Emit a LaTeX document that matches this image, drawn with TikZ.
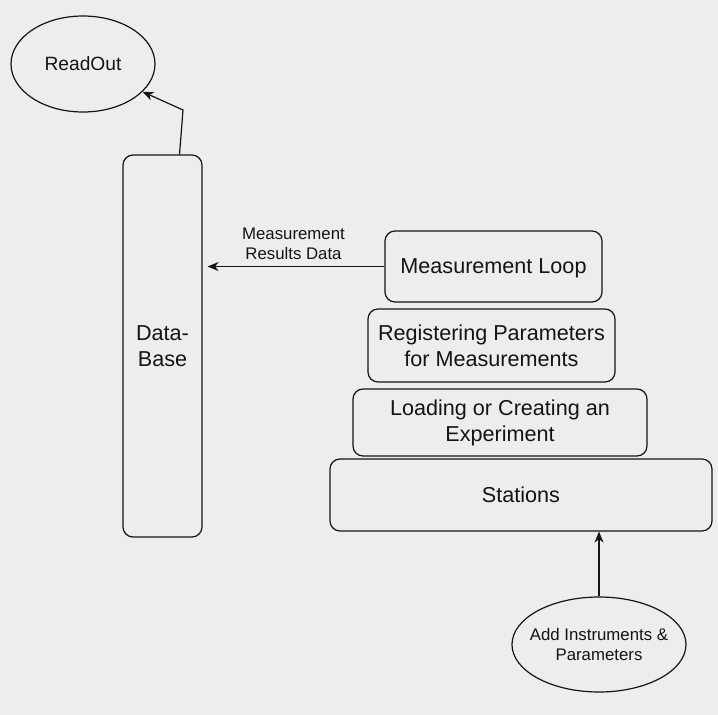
\documentclass[tikz,border=0pt]{standalone}
\usepackage{fontspec}
\setmainfont{Liberation Sans}
\usetikzlibrary{positioning,shapes.geometric}
\usetikzlibrary{arrows.meta}
\definecolor{bgcol}{RGB}{237,237,237}
\definecolor{inkcol}{RGB}{20,20,20}

\begin{document}
\begin{tikzpicture}[x=1pt, y=-1pt, line width=1.2pt, draw=inkcol, text=inkcol,
    bloc/.style={draw, rounded corners=10pt, align=center, inner sep=0pt,
      font=\fontsize{21.6}{25.9}\selectfont},
    bulle/.style={draw, ellipse, align=center, inner sep=0pt},
    fleche/.style={-{Stealth[length=11pt, width=9pt, inset=3.5pt]}}]
  \useasboundingbox[fill=bgcol] (0,0) rectangle (718,715);

  % Pile des étapes
  \node[bloc, text depth=0pt, minimum width=217pt, minimum height=71pt] (loop) at (493.5,266.5) {Measurement Loop};
  \node[bloc, minimum width=247pt, minimum height=73pt] (regist) at (491.5,345.5) {Registering Parameters\\for Measurements};
  \node[bloc, minimum width=294pt, minimum height=67pt] (expe) at (500,422.5) {Loading or Creating an\\Experiment};
  \node[bloc, minimum width=382pt, minimum height=72pt] (stations) at (521,495) {Stations};

  % Base et ellipses
  \node[bloc, minimum width=79pt, minimum height=382pt] (db) at (162.5,346) {Data-\\Base};
  \node[bulle, minimum width=144pt, minimum height=96pt, font=\fontsize{19.2}{23}\selectfont] (readout) at (83,64) {ReadOut};
  \node[bulle, inner xsep=-20pt, minimum width=174pt, minimum height=95pt, font=\fontsize{16.8}{20.2}\selectfont] (instr) at (599,644.5) {Add Instruments \&\\Parameters};

  % Flèches entre les blocs
  \coordinate (coude) at (183,110);
  \draw[fleche] ([xshift=17pt]db.north) -- (coude) -- (readout.-25);
  \draw[fleche, shorten >=5pt] (loop.west) -- (loop.west -| db.east)
    node[midway, above=3pt, align=center, font=\fontsize{16.8}{20.2}\selectfont] (lbl) {Measurement\\Results Data};
  \draw[fleche] (instr.north) -- (instr.north |- stations.south);

\end{tikzpicture}
\end{document}
